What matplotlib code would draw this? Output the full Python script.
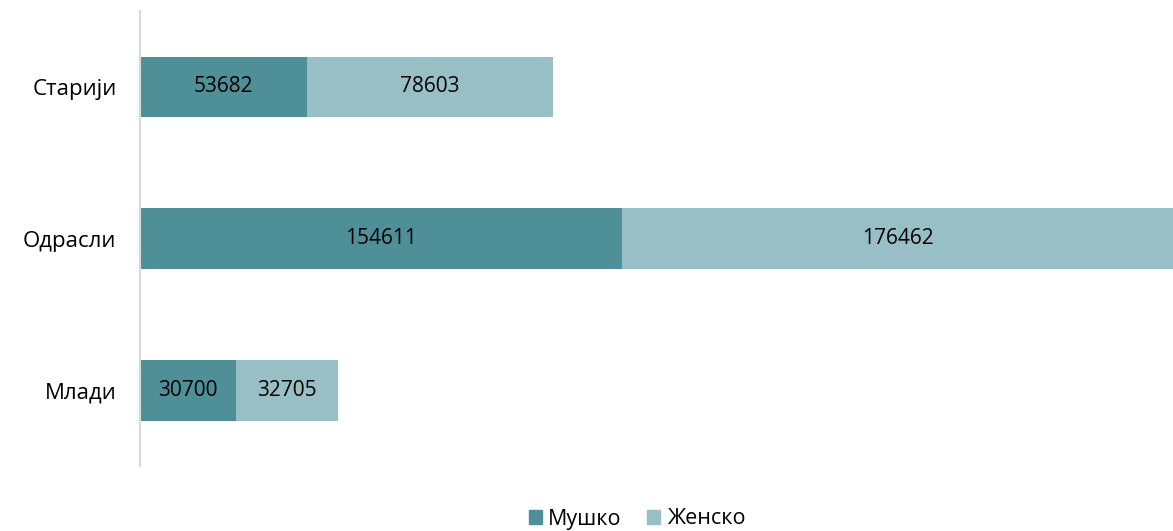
import matplotlib.pyplot as plt
from matplotlib.patches import Patch

plt.rcParams['font.family'] = ['Open Sans', 'DejaVu Sans']

groups = ['Млади', 'Одрасли', 'Старији']
male = [30700, 154611, 53682]
female = [32705, 176462, 78603]
series_names = ['Мушко', 'Женско']
colors = ['#4F8F98', '#98BFC6']

fig = plt.figure(figsize=(11.73, 5.31), dpi=100)
ax = fig.add_axes([140 / 1173, 65 / 531, 1 - 140 / 1173, 455 / 531])

y = range(len(groups))
ax.barh(y, male, height=0.4, color=colors[0])
ax.barh(y, female, left=male, height=0.4, color=colors[1])

for i in y:
    ax.text(male[i] / 2, i, str(male[i]), ha='center', va='center', fontsize=15, color='black')
    ax.text(male[i] + female[i] / 2, i, str(female[i]), ha='center', va='center', fontsize=15, color='black')

ax.set_ylim(-0.5, 2.5)
ax.set_xlim(0, max(m + f for m, f in zip(male, female)))
ax.set_yticks(list(y))
ax.set_yticklabels(groups, fontsize=16)
ax.tick_params(axis='y', length=0, pad=17)
ax.set_xticks([])
for s in ['top', 'right', 'bottom']:
    ax.spines[s].set_visible(False)
ax.spines['left'].set_color('#D9D9D9')
ax.spines['left'].set_linewidth(1.5)

handles = [Patch(color=c, label=n) for c, n in zip(colors, series_names)]
fig.legend(handles=handles, loc='center', bbox_to_anchor=(637 / 1173, 1 - 519 / 531),
           ncol=2, frameon=False, fontsize=15.5, handlelength=0.6, handleheight=0.6,
           handletextpad=0.3, columnspacing=1.2)

fig.savefig('out.png', dpi=100)
